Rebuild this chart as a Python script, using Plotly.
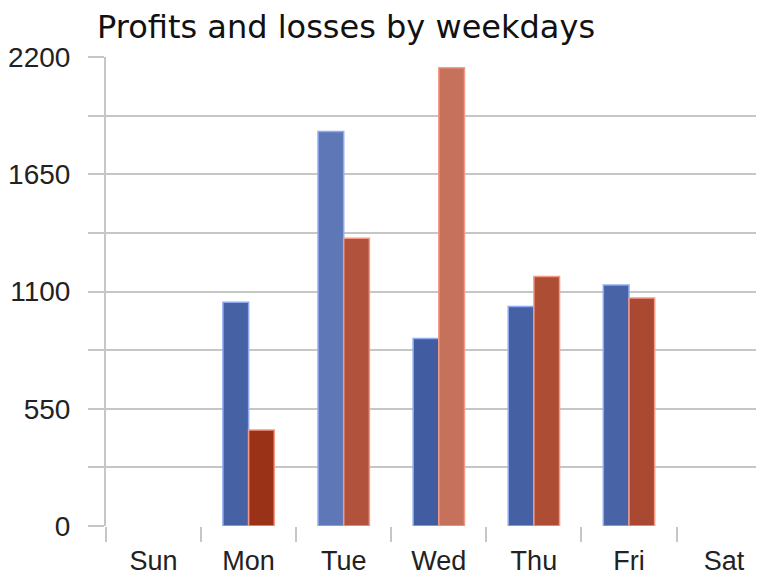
import plotly.graph_objects as go

days = ["Sun", "Mon", "Tue", "Wed", "Thu", "Fri", "Sat"]
profits = [None, 1050, 1850, 880, 1030, 1130, None]
losses = [None, 450, 1350, 2150, 1170, 1070, None]
y_ticks = [0, 550, 1100, 1650, 2200]

YMAX = 2200

def mix(c0, c1, t):
    t = max(0.0, min(1.0, t))
    a = [int(c0[i:i+2], 16) for i in (1, 3, 5)]
    b = [int(c1[i:i+2], 16) for i in (1, 3, 5)]
    return "#%02x%02x%02x" % tuple(round(a[k] + (b[k] - a[k]) * t) for k in range(3))

def bar_colors(vals, bottom, top):
    return [mix(bottom, top, ((v or 0) / 2) / YMAX * 1.15) for v in vals]

fig = go.Figure()
fig.add_trace(go.Bar(
    x=days, y=profits, name="Profits",
    marker=dict(color=bar_colors(profits, "#26428a", "#9ab2e8"),
                line=dict(color="#8eaaf0", width=1.5)),
))
fig.add_trace(go.Bar(
    x=days, y=losses, name="Losses",
    marker=dict(color=bar_colors(losses, "#8e2206", "#f0ae9e"),
                line=dict(color="#f49a86", width=1.5)),
))

W, H = 756, 568
grid = "#c6c6c6"
fig.update_layout(
    width=W, height=H,
    margin=dict(l=92, r=0, t=49, b=45),
    paper_bgcolor="white", plot_bgcolor="white",
    barmode="group", bargap=0.46, bargroupgap=0.0,
    showlegend=False,
    font=dict(family="Liberation Sans, Arial, sans-serif", color="#222222"),
    title=dict(text="Profits and losses by weekdays",
               font=dict(family="DejaVu Sans, sans-serif", size=32, color="#111111"),
               x=89 / W, xanchor="left", xref="container",
               y=1 - 19 / H, yanchor="middle", yref="container"),
)
fig.update_xaxes(
    range=[-0.5, 6.42], type="category",
    showgrid=False, tickson="boundaries",
    ticks="outside", ticklen=15, tickwidth=2, tickcolor=grid,
    tickfont=dict(size=27, color="#222222"),
    showline=False, zeroline=False, ticklabelstandoff=16,
)
fig.update_yaxes(
    range=[0, YMAX], tickvals=y_ticks, ticktext=[str(v) for v in y_ticks],
    showgrid=True, gridcolor=grid, gridwidth=2,
    ticks="outside", ticklen=16, tickwidth=2, tickcolor=grid,
    minor=dict(dtick=275, showgrid=True, gridcolor=grid, gridwidth=2,
               ticks="outside", ticklen=16, tickwidth=2, tickcolor=grid),
    tickfont=dict(size=28, color="#222222"),
    showline=True, linecolor=grid, linewidth=2,
    zeroline=False, ticklabelstandoff=12,
)

fig.write_html("out.html")
